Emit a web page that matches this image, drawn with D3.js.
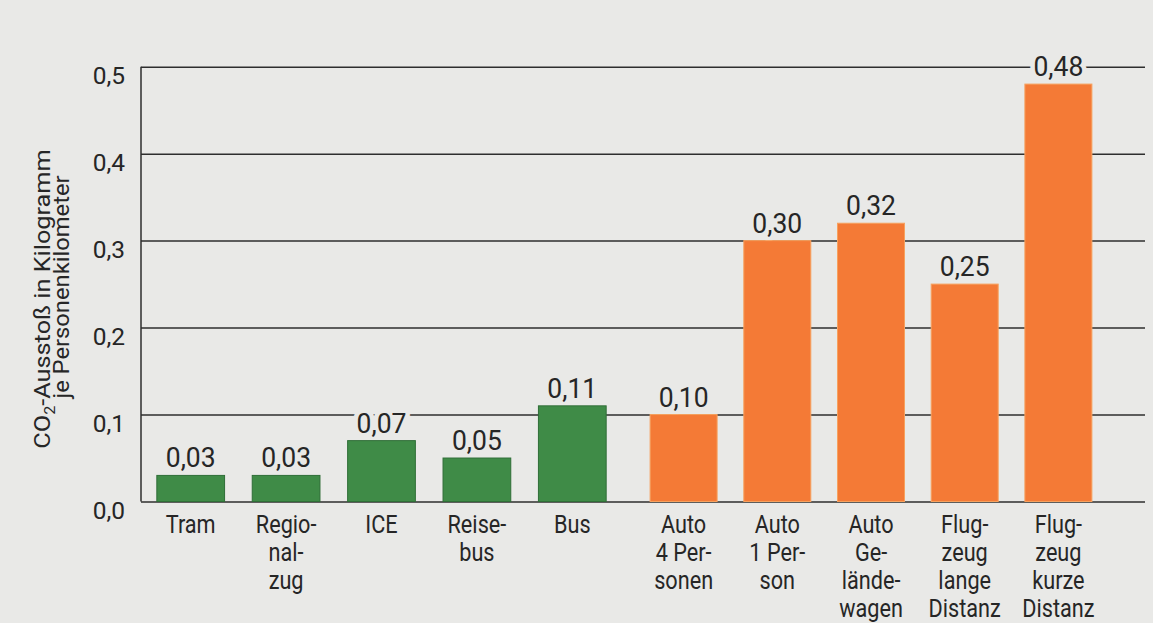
<!DOCTYPE html>
<html>
<head>
<meta charset="utf-8">
<script src="https://cdn.jsdelivr.net/npm/d3@7"></script>
<style>
  body { margin: 0; background: #e9e9e7; }
  svg text { font-family: Roboto, "Liberation Sans", sans-serif; fill: #262626; }
  .grid line { stroke: #2e2e2e; stroke-width: 1.5; }
  .grid .domain { display: none; }
</style>
</head>
<body>
<div id="chart"></div>
<script>
// Daten
var greenCats = ["Tram", "Regionalzug", "ICE", "Reisebus", "Bus"];
var greenValues = [0.03, 0.03, 0.07, 0.05, 0.11];
var orangeCats = ["Auto 4 Personen", "Auto 1 Person", "Auto Geländewagen", "Flugzeug lange Distanz", "Flugzeug kurze Distanz"];
var orangeValues = [0.10, 0.30, 0.32, 0.25, 0.48];
var catLines = [
  ["Tram"], ["Regio-", "nal-", "zug"], ["ICE"], ["Reise-", "bus"], ["Bus"],
  ["Auto", "4 Per-", "sonen"], ["Auto", "1 Per-", "son"], ["Auto", "Ge-", "lände-", "wagen"],
  ["Flug-", "zeug", "lange", "Distanz"], ["Flug-", "zeug", "kurze", "Distanz"]
];
var yTicks = [0, 0.1, 0.2, 0.3, 0.4, 0.5];

document.addEventListener('DOMContentLoaded', function () {
  drawChart();
});

// schmale Schrift nachbilden: Text horizontal stauchen
function narrowText(sel, x, y, sx) {
  return sel.attr("transform", function (d, i) {
    var xx = typeof x === "function" ? x(d, i) : x;
    var yy = typeof y === "function" ? y(d, i) : y;
    return "translate(" + xx + "," + yy + ") scale(" + sx + ",1)";
  });
}

function drawChart() {
  var W = 1153, H = 623;
  var left = 141, right = 1145, top = 66.7, bottom = 501.5;
  var bg = "#e9e9e7";

  var de = d3.formatLocale({decimal: ",", thousands: ".", grouping: [3], currency: ["", " €"]});
  var fmtTick = de.format(".1f");
  var fmtVal = de.format(".2f");

  var svg = d3.select("#chart")
              .append("svg")
              .attr("width", W)
              .attr("height", H);

  svg.append("rect")
     .attr("width", W)
     .attr("height", H)
     .attr("fill", bg);

  var y = d3.scaleLinear()
            .domain([0, 0.5])
            .range([bottom, top]);

  var xGreen = d3.scaleBand()
                 .domain(greenCats)
                 .range([143, 620])
                 .paddingInner(0.29)
                 .paddingOuter(0.145);

  var xOrange = d3.scaleBand()
                  .domain(orangeCats)
                  .range([637, 1105])
                  .paddingInner(0.285)
                  .paddingOuter(0.14);

  // Gitter + Achsenbeschriftung
  var grid = svg.append("g")
                .attr("class", "grid")
                .attr("transform", "translate(" + left + ",0)")
                .call(d3.axisLeft(y)
                  .tickValues(yTicks)
                  .tickSize(-(right - left))
                  .tickPadding(16)
                  .tickFormat(fmtTick));

  grid.selectAll("text")
      .attr("dy", "0.7em")
      .style("font-size", "24.5px");

  // y-Achse
  svg.append("line")
     .attr("x1", left)
     .attr("x2", left)
     .attr("y1", y(0.5))
     .attr("y2", y(0))
     .attr("stroke", "#2e2e2e")
     .attr("stroke-width", 1.5);

  var bars = [];
  greenCats.forEach(function (c, i) {
    bars.push({x: xGreen(c), w: xGreen.bandwidth(), v: greenValues[i], color: "#3f8b47", edge: "#2f6e37", lines: catLines[i]});
  });
  orangeCats.forEach(function (c, i) {
    bars.push({x: xOrange(c), w: xOrange.bandwidth(), v: orangeValues[i], color: "#f47a36", edge: "#f7a15e", lines: catLines[i + 5]});
  });

  // Werte: erst Freistellung (unter den Balken), dann Text
  function valueLabels(cls, halo) {
    var t = svg.selectAll("text." + cls)
               .data(bars)
               .enter()
               .append("text")
               .attr("class", cls)
               .attr("text-anchor", "middle")
               .style("font-size", "28.5px")
               .text(function (d) { return fmtVal(d.v); });
    if (halo) {
      t.style("fill", bg)
       .style("stroke", bg)
       .style("stroke-width", "10px");
    }
    narrowText(t, function (d) { return d.x + d.w / 2; }, function (d) { return y(d.v) - 8; }, 0.93);
  }
  valueLabels("halo", true);

  svg.selectAll("rect.bar")
     .data(bars)
     .enter()
     .append("rect")
     .attr("class", "bar")
     .attr("x", function (d) { return d.x; })
     .attr("width", function (d) { return d.w; })
     .attr("y", function (d) { return y(d.v); })
     .attr("height", function (d) { return y(0) - y(d.v); })
     .attr("fill", function (d) { return d.color; })
     .attr("stroke", function (d) { return d.edge; })
     .attr("stroke-width", 1);

  valueLabels("val", false);

  // Kategorien
  bars.forEach(function (b) {
    var g = svg.append("g");
    var t = g.selectAll("text")
             .data(b.lines)
             .enter()
             .append("text")
             .attr("text-anchor", "middle")
             .style("font-size", "25.5px")
             .text(function (d) { return d; });
    narrowText(t, b.x + b.w / 2, function (d, i) { return 533 + i * 28; }, 0.85);
  });

  // y-Titel
  var title = svg.append("text")
                 .attr("transform", "translate(50,299) rotate(-90) scale(1.15,1)")
                 .attr("text-anchor", "middle")
                 .style("font-size", "22px");
  title.append("tspan").text("CO");
  title.append("tspan").attr("dy", 5).style("font-size", "14px").text("2");
  title.append("tspan").attr("dy", -5).text("-Ausstoß in Kilogramm");

  svg.append("text")
     .attr("transform", "translate(69,287) rotate(-90) scale(1.08,1)")
     .attr("text-anchor", "middle")
     .style("font-size", "22px")
     .text("je Personenkilometer");
}
</script>
</body>
</html>
